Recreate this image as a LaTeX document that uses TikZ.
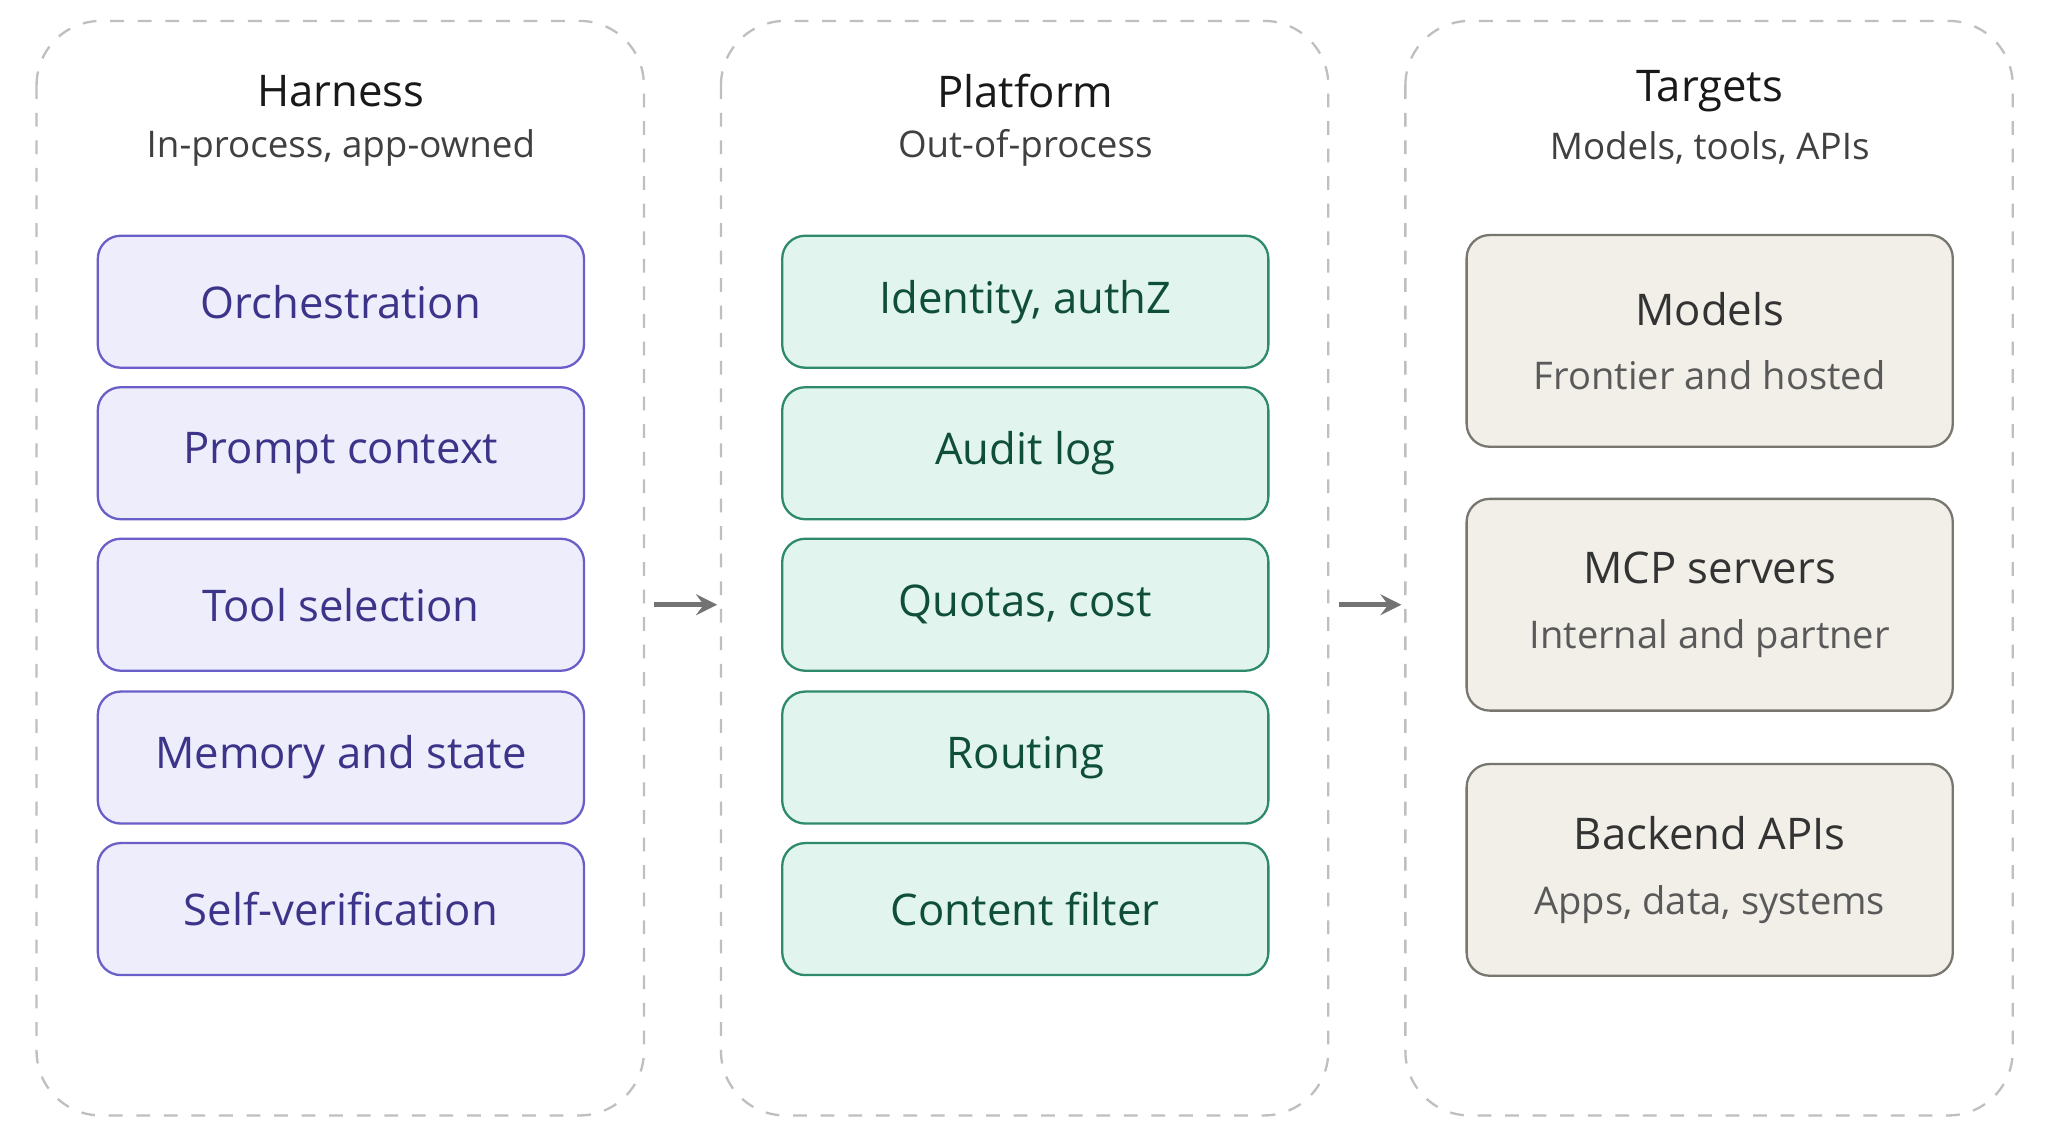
\documentclass[tikz,border=0pt]{standalone}
\usepackage{fontspec}
\setmainfont{Open Sans}
\begin{document}
\begin{tikzpicture}[x=0.01cm,y=-0.01cm,
 panel/.style={draw=black!25,dashed,rounded corners=14pt,line width=0.5pt},
 ttl/.style={font=\fontsize{9.5}{11}\selectfont\color{black!90}},
 sub/.style={font=\fontsize{8}{10}\selectfont\color{black!75}},
 hb/.style={draw=hcol,fill=hfill,rounded corners=5pt,minimum width=3.72cm,minimum height=1.01cm,font=\fontsize{9.5}{11}\selectfont,text=htext,line width=0.5pt},
 pb/.style={draw=pcol,fill=pfill,rounded corners=5pt,minimum width=3.72cm,minimum height=1.01cm,font=\fontsize{9.5}{11}\selectfont,text=ptext,line width=0.5pt},
 tb/.style={draw=tcol,fill=tfill,rounded corners=5pt,minimum width=3.72cm,minimum height=1.62cm,align=center,line width=0.5pt},
 arr/.style={->,>=stealth,draw=black!55,line width=1pt}]
\definecolor{hcol}{HTML}{6A5FC8}\definecolor{hfill}{HTML}{EEEDFC}\definecolor{htext}{HTML}{3C3489}
\definecolor{pcol}{HTML}{2E8A6A}\definecolor{pfill}{HTML}{E1F5EE}\definecolor{ptext}{HTML}{0F4F3A}
\definecolor{tcol}{HTML}{77766F}\definecolor{tfill}{HTML}{F1EFE8}
\useasboundingbox[fill=white] (0,0) rectangle (1568,869);
\draw[panel] (28,16) rectangle (493,854);
\draw[panel] (552,16) rectangle (1017,854);
\draw[panel] (1076,16) rectangle (1541,854);
\node[ttl] (t1) at (261,70) {Harness};
\node[sub] (s1) at (261,113) {In-process, app-owned};
\node[ttl] (t2) at (785,70) {Platform};
\node[sub] (s2) at (785,113) {Out-of-process};
\node[ttl] (t3) at (1309,70) {Targets};
\node[sub] (s3) at (1309,113) {Models, tools, APIs};
\foreach \n/\y/\t in {h1/231/Orchestration,h2/347/Prompt context,h3/463/Tool selection,h4/580/Memory and state,h5/696/Self-verification}
  \node[hb] (\n) at (261,\y) {\t};
\foreach \n/\y/\t in {p1/231/{Identity, authZ},p2/347/Audit log,p3/463/{Quotas, cost},p4/580/Routing,p5/696/Content filter}
  \node[pb] (\n) at (785,\y) {\t};
\node[tb] (m1) at (1309,261) {{\fontsize{9.5}{11}\selectfont\color{black!80}Models}\\[2pt]{\fontsize{8.3}{10}\selectfont\color{black!65}Frontier and hosted}};
\node[tb] (m2) at (1309,463) {{\fontsize{9.5}{11}\selectfont\color{black!80}MCP servers}\\[2pt]{\fontsize{8.3}{10}\selectfont\color{black!65}Internal and partner}};
\node[tb] (m3) at (1309,666) {{\fontsize{9.5}{11}\selectfont\color{black!80}Backend APIs}\\[2pt]{\fontsize{8.3}{10}\selectfont\color{black!65}Apps, data, systems}};
\coordinate (a1) at (501,463); \coordinate (b1) at (549,463);
\coordinate (a2) at (1025,463); \coordinate (b2) at (1073,463);
\draw[arr] (a1) -- (b1);
\draw[arr] (a2) -- (b2);
\end{tikzpicture}
\end{document}
